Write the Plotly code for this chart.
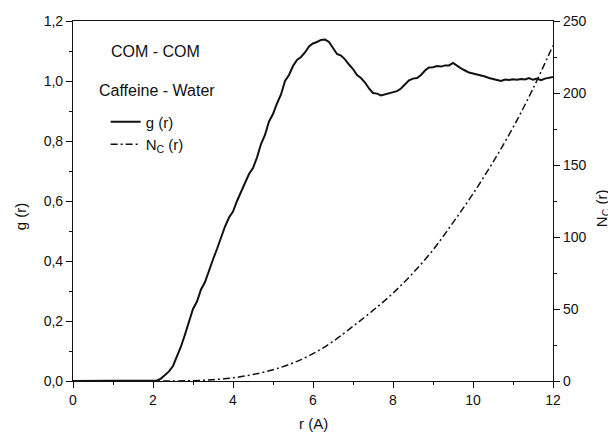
import plotly.graph_objects as go

# g(r), sampled every 0.1 A from 2.0 to 12.0 (zero below 2 A)
r_g = [0.0, 1.9] + [round(2.0 + 0.1 * i, 1) for i in range(101)]
g_r = [0.0, 0.0,
       0.0, 0.002, 0.008, 0.02, 0.032, 0.05, 0.08, 0.115, 0.155, 0.2,
       0.24, 0.265, 0.305, 0.33, 0.37, 0.405, 0.44, 0.48, 0.515, 0.545,
       0.565, 0.6, 0.63, 0.655, 0.69, 0.71, 0.745, 0.79, 0.82, 0.865,
       0.89, 0.925, 0.955, 1.0, 1.02, 1.05, 1.07, 1.08, 1.095, 1.115,
       1.125, 1.13, 1.137, 1.138, 1.13, 1.11, 1.09, 1.085, 1.072, 1.055,
       1.04, 1.02, 1.01, 0.995, 0.975, 0.96, 0.958, 0.952, 0.956, 0.96,
       0.962, 0.966, 0.975, 0.99, 1.002, 1.008, 1.01, 1.02, 1.035, 1.045,
       1.046, 1.05, 1.048, 1.052, 1.052, 1.06, 1.05, 1.042, 1.035, 1.028,
       1.025, 1.022, 1.02, 1.015, 1.01, 1.006, 1.002, 1.0, 1.005, 1.003,
       1.006, 1.004, 1.007, 1.005, 1.01, 1.004, 1.008, 1.003, 1.008, 1.01,
       1.013]

# coordination number N_C(r)
r_n = [0.0, 2.0, 2.5, 3.0, 3.5, 4.0, 4.5, 5.0, 5.5, 6.0, 6.5, 7.0, 7.5,
       8.0, 8.5, 9.0, 9.5, 10.0, 10.5, 11.0, 11.5, 12.0]
n_c = [0.0, 0.0, 0.05, 0.2, 0.9, 2.2, 4.5, 7.8, 12.5, 19, 27.5, 38, 49,
       61, 75, 91, 110, 130, 152, 176, 203, 233]

FONT = "Liberation Sans, Arial, sans-serif"
INK = "#111111"

fig = go.Figure()
fig.add_trace(go.Scatter(
    x=r_g, y=g_r, mode="lines", name="g (r)",
    line=dict(color=INK, width=2),
))
fig.add_trace(go.Scatter(
    x=r_n, y=n_c, mode="lines", name="N<sub>C</sub> (r)", yaxis="y2",
    line=dict(color=INK, width=1.5, dash="7px,3px,2px,3px", shape="spline"),
))


def note(text, x, y, size=16, angle=0, anchor="left"):
    fig.add_annotation(text=text, x=x, y=y, xref="paper", yref="paper",
                       xanchor=anchor, yanchor="middle", showarrow=False,
                       textangle=angle, font=dict(size=size, color=INK, family=FONT))


note("COM - COM", 0.075, 0.915)
note("Caffeine - Water", 0.05, 0.808)
# axis titles placed by hand to match the original spacing
note("r (A)", 0.5, -0.119, size=15, anchor="center")
note("g (r)", -0.110, 0.458, size=15, angle=-90, anchor="center")
note("N<sub>C</sub> (r)", 1.102, 0.48, size=15, angle=-90, anchor="center")

axis_style = dict(
    showline=True, linecolor=INK, linewidth=1.2, showgrid=False, zeroline=False,
    ticks="outside", ticklen=6, tickwidth=1.2, tickcolor=INK, automargin=False,
    tickfont=dict(size=14, color=INK, family=FONT),
)

# the page body adds an 8px margin, so the figure is 8px smaller than the window
fig.update_layout(
    width=608, height=426,
    margin=dict(l=65, r=63, t=13, b=53),
    paper_bgcolor="white", plot_bgcolor="white",
    separators=",.",
    font=dict(family=FONT, color=INK),
    showlegend=True,
    legend=dict(x=0.068, y=0.765, xanchor="left", yanchor="top",
                bgcolor="rgba(0,0,0,0)", font=dict(size=15, color=INK, family=FONT),
                itemwidth=30, tracegroupgap=0),
    xaxis=dict(range=[0, 12], dtick=2, mirror=True,
               minor=dict(dtick=1, ticks="outside", ticklen=3, tickcolor=INK),
               **axis_style),
    yaxis=dict(range=[0, 1.2], dtick=0.2, tickformat=".1f",
               minor=dict(dtick=0.1, ticks="outside", ticklen=3, tickcolor=INK),
               **axis_style),
    yaxis2=dict(range=[0, 250], dtick=50, overlaying="y", side="right",
                minor=dict(dtick=25, ticks="outside", ticklen=3, tickcolor=INK),
                **axis_style),
)

fig.write_html("out.html")
